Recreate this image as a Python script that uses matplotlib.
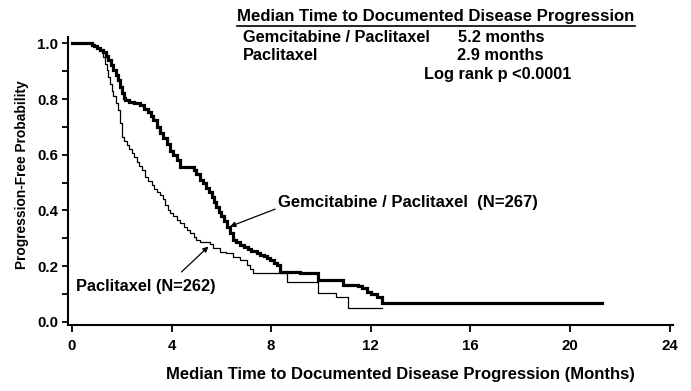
import matplotlib
matplotlib.use("Agg")
import matplotlib.pyplot as plt
from matplotlib.ticker import MultipleLocator

plt.rcParams['font.family'] = ['Liberation Sans', 'DejaVu Sans']

# Gemcitabine / Paclitaxel (thick) - KM step values
gem_t = [0, 0.79, 0.9, 1.0, 1.12, 1.26, 1.36, 1.46, 1.56, 1.66, 1.76, 1.86, 1.93, 2.0, 2.07, 2.13,
         2.3, 2.5, 2.73, 2.9, 3.06, 3.17, 3.27, 3.4, 3.53, 3.67, 3.8, 3.95, 4.07, 4.2, 4.34,
         4.9, 5.0, 5.14, 5.27, 5.4, 5.5, 5.61, 5.7, 5.8, 5.9, 6.0, 6.1, 6.21, 6.35, 6.48,
         6.6, 6.75, 6.9, 7.05, 7.2, 7.42, 7.55, 7.7, 7.82, 7.95, 8.1, 8.22, 8.35,
         9.16, 9.9, 10.9, 11.5, 11.63, 11.83, 12.0, 12.24, 12.44, 21.27]
gem_s = [1.0, 0.995, 0.99, 0.985, 0.978, 0.968, 0.955, 0.94, 0.922, 0.904, 0.886, 0.868, 0.845, 0.82, 0.805, 0.796,
         0.79, 0.785, 0.778, 0.766, 0.754, 0.74, 0.724, 0.70, 0.677, 0.66, 0.64, 0.615, 0.6, 0.58, 0.557,
         0.545, 0.53, 0.509, 0.497, 0.48, 0.465, 0.449, 0.43, 0.413, 0.395, 0.38, 0.36, 0.341, 0.32, 0.293,
         0.285, 0.276, 0.27, 0.262, 0.255, 0.246, 0.24, 0.235, 0.228, 0.22, 0.212, 0.204, 0.18,
         0.174, 0.15, 0.132, 0.127, 0.12, 0.108, 0.1, 0.09, 0.068, 0.068]

# Paclitaxel (thin)
pac_t = [0, 0.79, 0.9, 1.0, 1.12, 1.26, 1.33, 1.39, 1.46, 1.53, 1.6, 1.66, 1.76, 1.86, 1.93, 2.0,
         2.1, 2.2, 2.3, 2.4, 2.5, 2.6, 2.7, 2.8, 2.93, 3.06, 3.2, 3.3, 3.4, 3.53, 3.67, 3.75,
         3.85, 3.94, 4.05, 4.2, 4.34, 4.5, 4.6, 4.74, 4.9, 5.0, 5.14, 5.54, 5.65, 5.94, 6.2,
         6.48, 6.75, 7.02, 7.15, 7.28, 8.62, 9.9, 10.6, 11.1, 12.44]
pac_s = [1.0, 0.995, 0.99, 0.985, 0.978, 0.95, 0.925, 0.905, 0.88, 0.855, 0.83, 0.81, 0.785, 0.76, 0.715, 0.665,
         0.65, 0.635, 0.62, 0.605, 0.59, 0.575, 0.56, 0.545, 0.52, 0.505, 0.49, 0.475, 0.465, 0.455, 0.44, 0.42,
         0.40, 0.389, 0.378, 0.365, 0.353, 0.34, 0.33, 0.318, 0.305, 0.295, 0.287, 0.28, 0.265, 0.251, 0.245,
         0.233, 0.22, 0.204, 0.19, 0.174, 0.144, 0.102, 0.09, 0.048, 0.048]

x_ticks = [0, 4, 8, 12, 16, 20, 24]
y_ticks = [0.0, 0.2, 0.4, 0.6, 0.8, 1.0]
y_ticklabels = ['0.0', '0.2', '0.4', '0.6', '0.8', '1.0']

W, H = 691, 391
fig = plt.figure(figsize=(W / 100, H / 100), dpi=100)
ax = fig.add_axes([68 / W, (H - 325) / H, (673 - 68) / W, (325 - 37) / H])

ax.step(gem_t, gem_s, where='post', color='black', lw=2.3, solid_joinstyle='miter')
ax.step(pac_t, pac_s, where='post', color='black', lw=0.9)

ax.set_xlim(-0.16, 24.14)
ax.set_ylim(-0.012, 1.023)
for s in ['top', 'right']:
    ax.spines[s].set_visible(False)
for s in ['left', 'bottom']:
    ax.spines[s].set_linewidth(1.5)

ax.set_xticks(x_ticks)
ax.set_xticklabels([str(v) for v in x_ticks])
ax.set_yticks(y_ticks)
ax.set_yticklabels(y_ticklabels)
ax.yaxis.set_minor_locator(MultipleLocator(0.1))
ax.tick_params(axis='both', which='both', direction='out', width=1.3, labelsize=10.8)
ax.tick_params(axis='y', which='both', length=4, pad=3)
ax.tick_params(axis='x', which='major', length=5, pad=5)
for lab in ax.get_xticklabels() + ax.get_yticklabels():
    lab.set_fontweight('bold')

fig.text(22 / W, 1 - 175 / H, 'Progression-Free Probability', rotation=90,
         ha='center', va='center', fontsize=9.9, fontweight='bold')
fig.text(400 / W, 1 - 375 / H, 'Median Time to Documented Disease Progression (Months)',
         ha='center', va='center', fontsize=12, fontweight='bold')

# Header block
fs = 11.8
fig.text(237 / W, 1 - 17 / H, 'Median Time to Documented Disease Progression',
         ha='left', va='center', fontsize=12.1, fontweight='bold')
fig.add_artist(plt.Line2D([237 / W, 635 / W], [1 - 26 / H, 1 - 26 / H], color='black', lw=1.2))
fig.text(243 / W, 1 - 37 / H, 'Gemcitabine / Paclitaxel', ha='left', va='center', fontsize=fs, fontweight='bold')
fig.text(458 / W, 1 - 37 / H, '5.2 months', ha='left', va='center', fontsize=fs, fontweight='bold')
fig.text(243 / W, 1 - 55 / H, 'Paclitaxel', ha='left', va='center', fontsize=fs, fontweight='bold')
fig.text(457 / W, 1 - 55 / H, '2.9 months', ha='left', va='center', fontsize=fs, fontweight='bold')
fig.text(424 / W, 1 - 75 / H, 'Log rank p <0.0001', ha='left', va='center', fontsize=fs, fontweight='bold')

# Curve labels with arrows
def px2data(px, py):
    return ((px - 72) / 24.9, (321.7 - py) / 278.4)

ax.annotate('Gemcitabine / Paclitaxel  (N=267)', xy=px2data(230, 226.5), xytext=px2data(278, 202),
            ha='left', va='center', fontsize=12, fontweight='bold',
            arrowprops=dict(arrowstyle='-|>', color='black', lw=0.9, mutation_scale=8,
                            shrinkA=0, shrinkB=0, relpos=(0, 0.1)))
ax.annotate('', xy=px2data(208.5, 246.5), xytext=px2data(181.5, 272),
            arrowprops=dict(arrowstyle='-|>', color='black', lw=0.9, mutation_scale=8,
                            shrinkA=0, shrinkB=0))
ax.text(*px2data(76, 287), 'Paclitaxel (N=262)', ha='left', va='center', fontsize=fs, fontweight='bold')

fig.savefig('out.png', dpi=100)
